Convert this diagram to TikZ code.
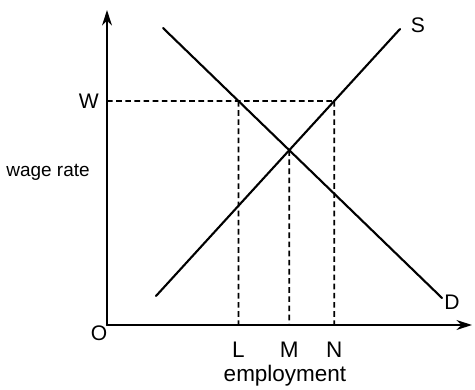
\documentclass[tikz,border=0pt]{standalone}
\usepackage{fontspec}
\setmainfont{Liberation Sans}
\usetikzlibrary{arrows.meta}
\begin{document}
\begin{tikzpicture}[line join = round, line cap = round,>={Stealth[length=11pt,width=7pt]},font=\fontsize{15}{17}\selectfont]
			\useasboundingbox (0,0) rectangle (11.875,9.725);
			\def \xmin{2.675};
			\def \xmax{11.8};
			\def \ymin{1.6};
			\def \ymax{9.475};
			\def \wage{7.2};
			\coordinate (O) at (\xmin,\ymin);
			\coordinate (xend) at (\xmax,\ymin);
			\coordinate (yend) at (\xmin,\ymax);
			\draw[->,line width=1.6pt] (O)--(xend);
			\draw[->,line width=1.6pt] (O)--(yend);
			\node (o) at (2.475,1.4) {O};
			\node[font=\fontsize{13.5}{15}\selectfont] (wr) at (1.2,5.425) {wage rate};
			\node[font=\fontsize{16}{18}\selectfont] (emp) at (7.125,0.33) {employment};
			% demand and supply
			\coordinate (D1) at (4.075,9.025);
			\coordinate (D2) at (11.05,2.275);
			\coordinate (S1) at (3.9,2.325);
			\coordinate (S2) at (10.0,9.0);
			\draw[line width=1.5pt] (D1)--(D2);
			\draw[line width=1.5pt] (S1)--(S2);
			\node (d) at (11.3,2.175) {D};
			\node (s) at (10.45,9.1) {S};
			% wage level and employment points
			\coordinate (Wpt) at (\xmin,\wage);
			\coordinate (Wfar) at (\xmax,\wage);
			\coordinate (E) at (intersection of D1--D2 and S1--S2);
			\coordinate (L) at (intersection of D1--D2 and Wpt--Wfar);
			\coordinate (N) at (intersection of S1--S2 and Wpt--Wfar);
			\node[left=0.08cm] (w) at (Wpt) {W};
			\draw[line width=1.2pt,dash pattern=on 4pt off 2.5pt,line cap=butt] (Wpt)--(N) (L)--(L |- O) (E)--(E |- O) (N)--(N |- O);
			\node[below=0.3cm,font=\fontsize{16}{18}\selectfont] (l) at (L |- O) {L};
			\node[below=0.3cm,font=\fontsize{16}{18}\selectfont] (m) at (E |- O) {M};
			\node[below=0.3cm,font=\fontsize{16}{18}\selectfont] (n) at (N |- O) {N};
		\end{tikzpicture}
\end{document}
